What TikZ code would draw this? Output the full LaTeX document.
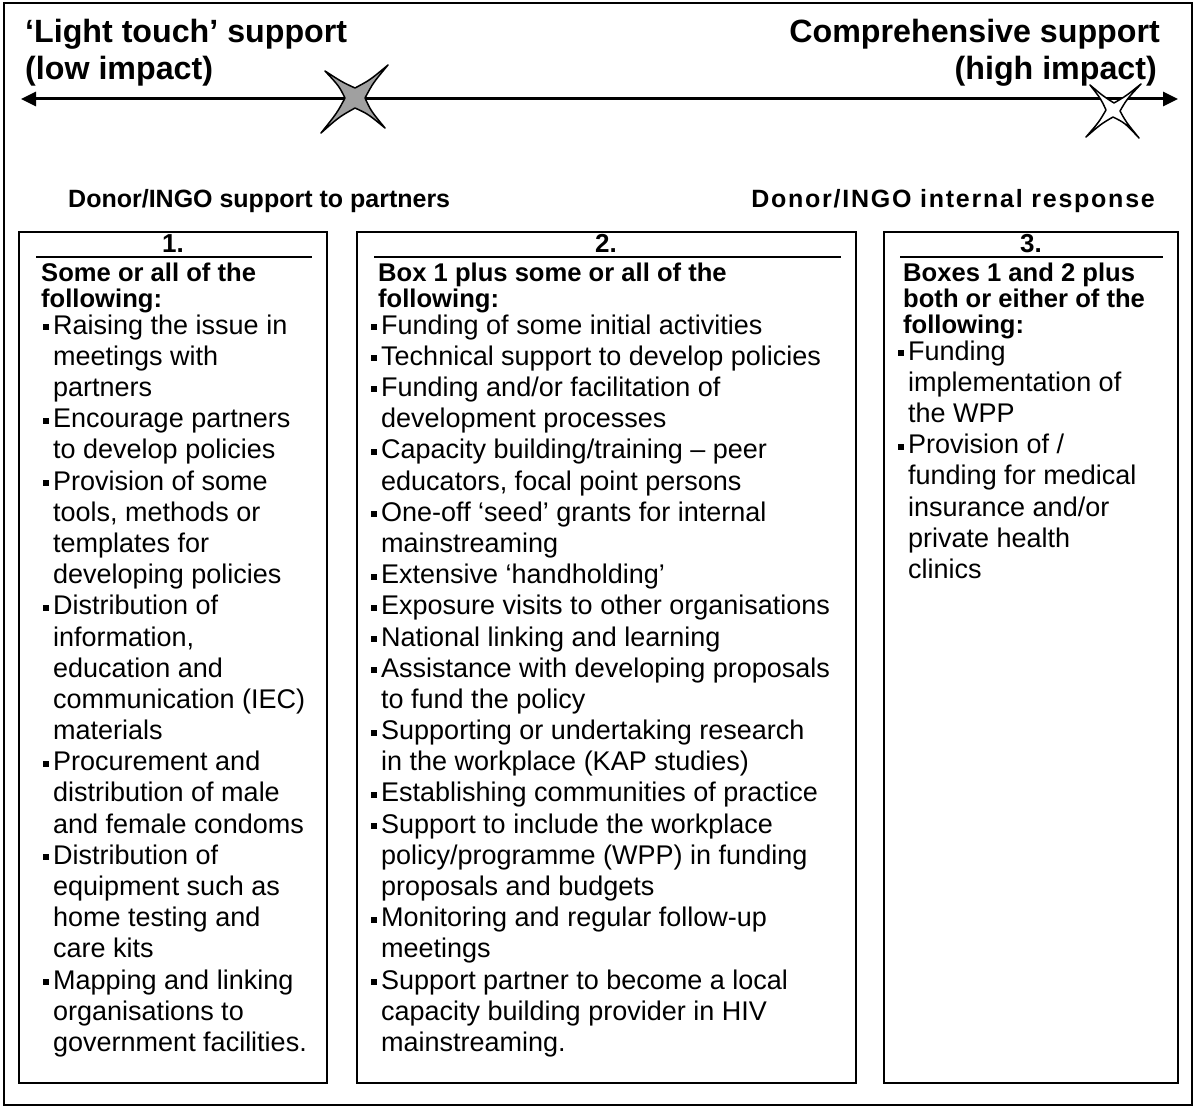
\documentclass[tikz,border=0pt]{standalone}
\usepackage{fontspec}
\setmainfont{Liberation Sans}
\usetikzlibrary{arrows.meta}
\definecolor{stargray}{RGB}{160,160,160}

% indent of the item text, relative to the heading of its panel
\newlength\itemshift
% one line of a box heading, one bullet line, one continuation line
\newcommand\hdline[1]{\hbox{\bfseries\fontsize{25.6}{26}\selectfont #1}}
\newcommand\bitem[1]{\hbox{\fontsize{27}{31.2}\selectfont\hspace*{\dimexpr\itemshift-10pt\relax}\rule[4pt]{6pt}{6pt}\hspace*{4pt}#1}}
\newcommand\bcont[1]{\hbox{\fontsize{27}{31.2}\selectfont\hspace*{\itemshift}#1}}
% line spacing inside the panels
\newcommand\headskip{\baselineskip=26pt\lineskiplimit=0pt\lineskip=1pt}
\newcommand\firstitemskip{\baselineskip=27pt}
\newcommand\itemskip{\baselineskip=31.2pt}

\begin{document}
\begin{tikzpicture}[x=1pt,y=-1pt,
  frame/.style={draw, line width=1.5},
  panel/.style={draw, line width=2.2},
  rule/.style={line width=2},
  toptitle/.style={font=\bfseries\fontsize{32.2}{37}\selectfont, inner sep=0},
  subtitle/.style={font=\bfseries\fontsize{25}{30}\selectfont, inner sep=0},
  numlabel/.style={font=\bfseries\fontsize{26}{26}\selectfont, inner sep=0, anchor=base},
  boxtext/.style={anchor=base west, inner sep=0},
  scale arrow/.style={line width=3, {Triangle[length=15,width=14]}-{Triangle[length=15,width=14]}},
  crossmark/.style={draw, line width=1.5, line join=round}]

\useasboundingbox (0,0) rectangle (1195,1108);
\draw[frame] (4,3) rectangle (1192,1105);

% headings at both ends of the scale
\node[toptitle, anchor=base west] (lt1) at (25,43) {‘Light touch’ support};
\node[toptitle, anchor=base west] (lt2) at (25,80) {(low impact)};
\node[toptitle, anchor=base east] (rt1) at (1160,43) {Comprehensive support};
\node[toptitle, anchor=base east] (rt2) at (1157,80) {(high impact)};

% the scale
\coordinate (scaleL) at (21,99);
\coordinate (scaleR) at (1178,99);
\draw[scale arrow] (scaleL) -- (scaleR);

% sub-headings
\node[subtitle, anchor=base west] (sub1) at (68,207) {Donor/INGO support to partners};
\node[subtitle, anchor=base east] (sub2) at (1155,207) {\addfontfeature{LetterSpace=7}Donor/INGO internal response};

% the three panels
\draw[panel] (19,232) rectangle (327,1083);
\draw[panel] (357,232) rectangle (856,1083);
\draw[panel] (884,232) rectangle (1178,1083);

\node[numlabel] (n1) at (173,252) {1.};
\node[numlabel] (n2) at (606,252) {2.};
\node[numlabel] (n3) at (1031,252) {3.};
\draw[rule] (36,257) -- (312,257);
\draw[rule] (374,257) -- (841,257);
\draw[rule] (900,257) -- (1163,257);

\node[boxtext] (b1) at (41,281) {\vtop{\headskip\setlength\itemshift{12pt}
\hdline{Some or all of the}
\hdline{following:}
\firstitemskip
\bitem{Raising the issue in}
\itemskip
\bcont{meetings with}
\bcont{partners}
\bitem{Encourage partners}
\bcont{to develop policies}
\bitem{Provision of some}
\bcont{tools, methods or}
\bcont{templates for}
\bcont{developing policies}
\bitem{Distribution of}
\bcont{information,}
\bcont{education and}
\bcont{communication (IEC)}
\bcont{materials}
\bitem{Procurement and}
\bcont{distribution of male}
\bcont{and female condoms}
\bitem{Distribution of}
\bcont{equipment such as}
\bcont{home testing and}
\bcont{care kits}
\bitem{Mapping and linking}
\bcont{organisations to}
\bcont{government facilities.}}};

\node[boxtext] (b2) at (378,281) {\vtop{\headskip\setlength\itemshift{3pt}
\hdline{Box 1 plus some or all of the}
\hdline{following:}
\firstitemskip
\bitem{Funding of some initial activities}
\itemskip
\bitem{Technical support to develop policies}
\bitem{Funding and/or facilitation of}
\bcont{development processes}
\bitem{Capacity building/training – peer}
\bcont{educators, focal point persons}
\bitem{One-off ‘seed’ grants for internal}
\bcont{mainstreaming}
\bitem{Extensive ‘handholding’}
\bitem{Exposure visits to other organisations}
\bitem{National linking and learning}
\bitem{Assistance with developing proposals}
\bcont{to fund the policy}
\bitem{Supporting or undertaking research}
\bcont{in the workplace (KAP studies)}
\bitem{Establishing communities of practice}
\bitem{Support to include the workplace}
\bcont{policy/programme (WPP) in funding}
\bcont{proposals and budgets}
\bitem{Monitoring and regular follow-up}
\bcont{meetings}
\bitem{Support partner to become a local}
\bcont{capacity building provider in HIV}
\bcont{mainstreaming.}}};

\node[boxtext] (b3) at (903,281) {\vtop{\headskip\setlength\itemshift{5pt}
\hdline{Boxes 1 and 2 plus}
\hdline{both or either of the}
\hdline{following:}
\firstitemskip
\bitem{Funding}
\itemskip
\bcont{implementation of}
\bcont{the WPP}
\bitem{Provision of /}
\bcont{funding for medical}
\bcont{insurance and/or}
\bcont{private health}
\bcont{clinics}}};

% markers on the scale: four-pointed stars with slightly hollow sides
\begin{scope}[shift={(355,98)}]
  \draw[crossmark, fill=stargray]
    (-30,-27) .. controls (-13,-16) .. (0,-10)
    .. controls (15,-18) .. (33,-33)
    .. controls (18,-15) .. (10,0)
    .. controls (16,13) .. (30,30)
    .. controls (13,16) .. (0,10)
    .. controls (-16,19) .. (-34,35)
    .. controls (-18,15) .. (-10,0)
    .. controls (-16,-12) .. cycle;
\end{scope}
\begin{scope}[shift={(1113,110)}]
  \draw[crossmark, fill=white]
    (-23,-25) .. controls (-10,-14) .. (1,-7)
    .. controls (13,-14) .. (28,-26)
    .. controls (14,-11) .. (7,1)
    .. controls (13,12) .. (26,28)
    .. controls (12,13) .. (0,7)
    .. controls (-12,14) .. (-27,27)
    .. controls (-14,12) .. (-7,0)
    .. controls (-12,-11) .. cycle;
\end{scope}
\end{tikzpicture}
\end{document}
